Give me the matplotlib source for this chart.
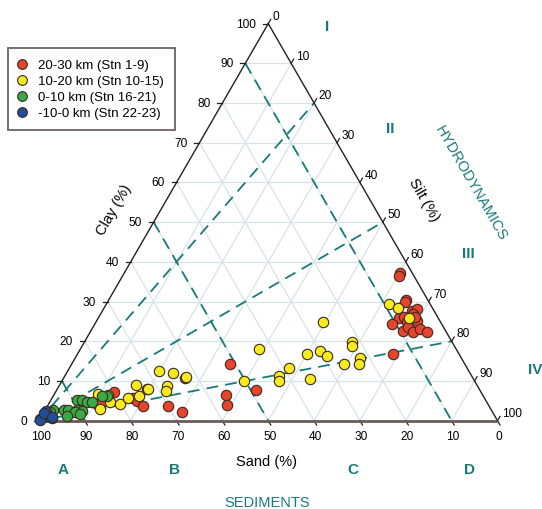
import numpy as np
import matplotlib
matplotlib.use('Agg')
import matplotlib.pyplot as plt
from matplotlib.lines import Line2D

plt.rcParams['font.family'] = ['Liberation Sans', 'DejaVu Sans']

# samples as (clay %, silt %); sand = 100 - clay - silt
red_clay = [7.3, 4.2, 4.6, 5.6, 5.0, 3.8, 3.6, 2.2, 10.7, 8.0, 14.3, 6.5, 4.0, 7.8, 16.8,
            37.2, 36.4, 30.3, 29.8, 27.7, 28.1, 26.9, 25.8, 26.0, 24.4, 24.8, 25.2, 22.7,
            23.5, 22.3, 23.1, 22.4, 26.0]
red_silt = [12.6, 10.5, 11.4, 17.8, 18.8, 20.8, 26.4, 30.0, 26.5, 19.5, 34.5, 37.6, 38.9, 43.5, 68.7,
            60.1, 60.4, 65.0, 64.9, 67.4, 68.3, 68.2, 65.7, 66.5, 64.7, 67.8, 69.8, 68.1,
            68.8, 70.5, 71.6, 73.5, 69.0]

yellow_clay = [6.7, 6.5, 4.6, 2.9, 4.1, 5.8, 8.9, 6.3, 7.9, 12.4, 12.0, 11.1, 8.7, 7.4, 18.1, 10.0,
               11.3, 9.9, 13.3, 16.7, 10.5, 17.5, 16.2, 24.9, 14.4, 19.7, 18.7, 15.7, 14.4,
               29.4, 28.3, 25.9]
yellow_silt = [9.6, 11.9, 13.2, 11.9, 15.7, 16.5, 16.6, 18.7, 19.9, 20.0, 23.2, 26.5, 23.5, 24.1, 38.9, 39.8,
               46.8, 47.5, 47.9, 50.1, 53.9, 52.5, 54.8, 49.4, 59.3, 58.4, 59.0, 62.2, 62.7,
               61.7, 64.2, 67.8]

green_clay = [5.1, 5.1, 4.6, 6.3, 6.3, 2.7, 2.4, 2.7, 2.8, 2.1, 1.7, 2.8, 2.1, 4.6, 1.3]
green_silt = [5.7, 6.9, 8.2, 11.6, 10.5, 6.9, 8.1, 4.2, 5.0, 6.8, 8.1, 1.6, 1.4, 9.2, 5.4]

blue_clay = [2.5, 0.4, 1.1, 1.3, 0.6, 0.1, 1.9, 0.9]
blue_silt = [0.3, 0.1, 0.75, 1.35, 2.5, 0.1, 0.2, 2.4]

labels = ['20-30 km (Stn 1-9)', '10-20 km (Stn 10-15)', '0-10 km (Stn 16-21)', '-10-0 km (Stn 22-23)']
colors = ['#e8432c', '#f7ea1e', '#3aaa45', '#1f4e9c']

ticks = list(range(0, 101, 10))
sand_bounds = [90, 50, 10]      # sediment classes A-D
silt_bounds = [20, 50, 80]      # hydrodynamic classes I-IV

teal = '#187a78'
grid_c = '#d6e3e8'
H = np.sqrt(3) / 2
u = 1 / 458.5  # one pixel in data units


def tern(clay, silt):
    c = np.asarray(clay, float) / 100
    s = np.asarray(silt, float) / 100
    return s + c / 2, c * H


fig = plt.figure(figsize=(5.42, 5.10), dpi=100)
ax = fig.add_axes([0, 0, 1, 1])
ax.set_xlim(-39 * u, 503 * u)
ax.set_ylim(-88.3 * u, 421.7 * u)
ax.axis('off')

# grid
for v in ticks[1:-1]:
    for (c0, s0), (c1, s1) in [((v, 0), (v, 100 - v)),
                               ((0, v), (100 - v, v)),
                               ((100 - v, 0), (0, 100 - v))]:
        x, y = tern([c0, c1], [s0, s1])
        ax.plot(x, y, color=grid_c, lw=0.9, zorder=1)

# class boundaries
for v in sand_bounds:
    x, y = tern([100 - v, 0], [0, 100 - v])
    ax.plot(x, y, color=teal, lw=1.3, ls=(0, (6.5, 4)), zorder=2)
for v in silt_bounds:
    x, y = tern([0, 100 - v], [0, v])
    ax.plot(x, y, color=teal, lw=1.3, ls=(0, (6.5, 4)), zorder=2)

# triangle edges
x, y = tern([0, 100, 0], [0, 0, 100])
ax.plot(x[:2], y[:2], color='#222222', lw=1.0, zorder=3)
ax.plot(x[1:], y[1:], color='#222222', lw=1.0, zorder=3)
ax.plot([x[0], x[2]], [y[0], y[2]], color='#6b5a58', lw=2.0, zorder=3, solid_capstyle='butt')

# ticks and tick labels
fs = 8.6
for v in ticks:
    # clay, left edge
    x, y = tern(v, 0)
    ax.plot([x, x - 5 * u], [y, y], color='#222222', lw=0.9)
    ax.text(x - 12 * u, y, str(v), ha='right', va='center', fontsize=fs)
    # silt, right edge
    x, y = tern(100 - v, v)
    ax.plot([x, x + 2.5 * u], [y, y + 4.3 * u], color='#222222', lw=0.9)
    ax.text(x + 4.5 * u, y + 7.8 * u, str(v), ha='left', va='center', fontsize=fs)
    # sand, bottom edge
    x, y = tern(0, 100 - v)
    ax.plot([x, x + 2.5 * u], [y, y - 4.3 * u], color='#222222', lw=0.9)
    ax.text(x + 1.5 * u, y - 9 * u, str(v), ha='center', va='top', fontsize=fs)

# axis titles
ax.text(228 * u, -40.3 * u, 'Sand (%)', ha='center', va='center', fontsize=10.5)
ax.text(75 * u, 211.7 * u, 'Clay (%)', ha='center', va='center', fontsize=10.5, rotation=60)
ax.text(385 * u, 221.7 * u, 'Silt (%)', ha='center', va='center', fontsize=10.5, rotation=-60)

ax.text(432 * u, 238.7 * u, 'HYDRODYNAMICS', ha='center', va='center', fontsize=10.5,
        rotation=-60, color=teal)
ax.text(228 * u, -81.3 * u, 'SEDIMENTS', ha='center', va='center', fontsize=10.5, color=teal)

for name, (px, py) in zip(['I', 'II', 'III', 'IV'], [(327, 27), (390, 129), (468, 254), (535, 370)]):
    ax.text((px - 39) * u, (421.7 - py) * u, name, ha='center', va='center', fontsize=11,
            fontweight='bold', color=teal)
for name, (px, py) in zip(['A', 'B', 'C', 'D'], [(63, 470), (175, 470), (353, 470), (470, 470)]):
    ax.text((px - 39) * u, (421.7 - py) * u, name, ha='center', va='center', fontsize=11,
            fontweight='bold', color=teal)

# samples
for cl, si, col in zip([red_clay, yellow_clay, green_clay, blue_clay],
                       [red_silt, yellow_silt, green_silt, blue_silt], colors):
    x, y = tern(cl, si)
    ax.scatter(x, y, s=56, c=col, edgecolors='#3a2a22', linewidths=0.8, zorder=5, clip_on=False)

handles = [Line2D([], [], ls='none', marker='o', ms=7, mfc=c, mec='#3a2a22', mew=0.8)
           for c in colors]
leg = ax.legend(handles, labels, loc='upper left', bbox_to_anchor=(8 / 542, 1 - 49 / 510),
                borderaxespad=0, fontsize=9.5, frameon=True, fancybox=False,
                handlelength=0.4, handletextpad=1.0, borderpad=0.85, labelspacing=0.28)
leg.get_frame().set_edgecolor('#4a3c3c')
leg.get_frame().set_linewidth(1.3)

fig.savefig('out.png', dpi=100)
